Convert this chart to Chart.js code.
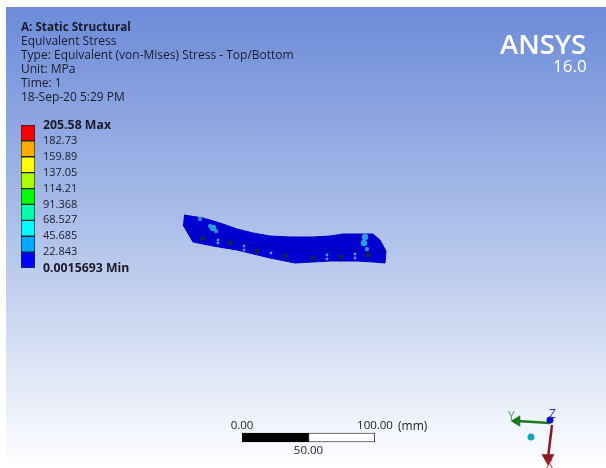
<!DOCTYPE html>
<html>
<head>
<meta charset="utf-8">
<script src="https://cdn.jsdelivr.net/npm/chart.js@4"></script>
<style>
html, body { margin: 0; padding: 0; background: #fff; }
#page { position: relative; width: 606px; height: 468px; overflow: hidden; font-family: "Open Sans", sans-serif; color: #1a1a2a; }
#panel { position: absolute; left: 6px; top: 7px; width: 600px; height: 461px; background: linear-gradient(#6c8bd9, #a9bde8 45%, #ffffff 100%); }
canvas { position: absolute; }
.t { position: absolute; white-space: nowrap; font-size: 12px; line-height: 13px; }
</style>
</head>
<body>
<div id="page">
  <div id="panel"></div>
  <canvas id="mainChart" width="606" height="468" style="left:0;top:0"></canvas>
  <canvas id="legendChart" width="150" height="170" style="left:10px;top:112px"></canvas>
  <canvas id="scaleChart" width="240" height="52" style="left:200px;top:410px"></canvas>

  <div class="t" style="left:21px;top:20px;font-weight:bold;font-size:11.7px">A: Static Structural</div>
  <div class="t" style="left:21px;top:34px">Equivalent Stress</div>
  <div class="t" style="left:21px;top:48px">Type: Equivalent (von-Mises) Stress - Top/Bottom</div>
  <div class="t" style="left:21px;top:62px">Unit: MPa</div>
  <div class="t" style="left:21px;top:76px">Time: 1</div>
  <div class="t" style="left:21px;top:90px">18-Sep-20 5:29 PM</div>

  <div class="t" style="left:500px;top:28px;font-size:27.5px;line-height:32px;font-weight:600;color:#fff">ANSYS</div>
  <div class="t" style="left:553px;top:57px;font-size:17px;line-height:18px;color:#fff">16.0</div>

  <div class="t" style="left:398px;top:419px">(mm)</div>

  <div class="t" style="left:508px;top:409px;color:#5aa05a">Y</div>
  <div class="t" style="left:549px;top:407px;color:#2030c0">Z</div>
  <div class="t" style="left:546px;top:457px;color:#c03030">X</div>
</div>

<script>
// Stress levels of the contour legend (MPa)
const stressLevels = [0.0015693, 22.843, 45.685, 68.527, 91.368, 114.21, 137.05, 159.89, 182.73, 205.58];
const bandColors = ['#0000ff', '#00aaff', '#00ffff', '#00ffaa', '#00ff00', '#aaff00', '#ffff00', '#ffaa00', '#ff0000'];

// Scale bar (mm)
const scaleSegments = [[0, 50], [50, 100]];
const scaleColors = ['#000000', '#ffffff'];

// Beam outline
const beamOutline = [[184,215],[203,218],[220,223],[237,229],[253,233],[270,236],[290,237],[313,237],[330,236],[343,234],[373,234],[380,240],[386,251],[385,263],[373,262],[357,261],[330,261],[295,263],[280,260],[270,258],[237,250],[213,246],[193,242],[183,225]];
const beamEdge = [[184,226],[190,228],[220,236],[253,245],[290,251],[330,250],[386,251]];
const holes = [[203,238],[230,243],[257,251],[285,256],[313,258],[341,257],[368,255]];
const bigSpots = [[213,228],[365,237],[364,243]];
const midSpots = [[200,219],[210,226],[216,231],[367,249]];
const smallSpots = [[218,240],[218,243],[244,246],[244,250],[271,253],[327,255],[327,259],[355,254],[355,258]];

// Triad
const axisY = [[550,423],[517,421]];
const axisX = [[552,425],[548,458]];
const triadOrigin = [[550,420]];
const triadDot = [[531,437]];

const toPoints = (list) => list.map((p) => ({ x: p[0], y: p[1] }));

new Chart(document.getElementById('mainChart').getContext('2d'), {
    type: 'scatter',
    data: {
        // first dataset ends up on top
        datasets: [
            { data: toPoints(triadOrigin), backgroundColor: '#1010c0', pointRadius: 3.5, borderWidth: 0 },
            { data: toPoints(axisY), showLine: true, borderColor: '#1a7a1a', borderWidth: 2.5, pointRadius: [0, 4], pointStyle: 'triangle', pointRotation: -90, backgroundColor: '#1a7a1a' },
            { data: toPoints(axisX), showLine: true, borderColor: '#8a1a2a', borderWidth: 2.5, pointRadius: [0, 5], pointStyle: 'triangle', pointRotation: 180, backgroundColor: '#8a1a2a' },
            { data: toPoints(triadDot), backgroundColor: '#18a8b0', pointRadius: 3.5, borderWidth: 0 },
            { data: toPoints(bigSpots), backgroundColor: '#2a9fd0', pointRadius: 3.2, borderWidth: 0 },
            { data: toPoints(midSpots), backgroundColor: '#2a8ad8', pointRadius: 2.2, borderWidth: 0 },
            { data: toPoints(smallSpots), backgroundColor: '#3aa0e8', pointRadius: 1.4, borderWidth: 0 },
            { data: toPoints(holes), backgroundColor: '#10205a', pointRadius: 2.8, borderWidth: 0 },
            { data: toPoints(beamEdge), showLine: true, borderColor: '#0000a8', borderWidth: 1, pointRadius: 0 },
            { data: toPoints(beamOutline), showLine: true, fill: 'shape', backgroundColor: '#0000d2', borderColor: '#0000c0', borderWidth: 1, pointRadius: 0, tension: 0 }
        ]
    },
    options: {
        responsive: false,
        animation: false,
        layout: { padding: 0, autoPadding: false },
        plugins: { legend: { display: false }, tooltip: { enabled: false } },
        scales: {
            x: { display: false, min: 0, max: 606 },
            y: { display: false, min: 0, max: 468, reverse: true }
        }
    }
});

// Contour legend: floating bars, the value axis carries the level labels
new Chart(document.getElementById('legendChart').getContext('2d'), {
    type: 'bar',
    data: {
        labels: [''],
        datasets: bandColors.map((color, i) => ({
            data: [[stressLevels[i], stressLevels[i + 1]]],
            backgroundColor: color,
            borderColor: '#1c2430',
            borderWidth: 1,
            borderSkipped: false,
            barPercentage: 1,
            categoryPercentage: 1,
            grouped: false
        }))
    },
    options: {
        responsive: false,
        animation: false,
        layout: { padding: { left: 11, top: 13, bottom: 14, right: 0 } },
        plugins: { legend: { display: false }, tooltip: { enabled: false } },
        scales: {
            x: { display: false },
            y: {
                position: 'right',
                min: stressLevels[0],
                max: stressLevels[stressLevels.length - 1],
                grid: { display: false },
                border: { display: false },
                afterBuildTicks: (axis) => { axis.ticks = stressLevels.map((v) => ({ value: v })); },
                afterFit: (axis) => { axis.width = 125; },
                ticks: {
                    autoSkip: false,
                    padding: 0,
                    color: '#1a1a2a',
                    crossAlign: 'near',
                    font: (ctx) => {
                        const ends = ctx.index === 0 || ctx.index === stressLevels.length - 1;
                        return { family: 'Open Sans', size: ends ? 12.3 : 11, weight: ends ? 'bold' : 'normal' };
                    },
                    callback: (value, i) => {
                        if (i === stressLevels.length - 1) return value + ' Max';
                        if (i === 0) return value + ' Min';
                        return String(value);
                    }
                }
            }
        }
    }
});

// Scale bar: 0 and 100 on top, 50 below
new Chart(document.getElementById('scaleChart').getContext('2d'), {
    type: 'bar',
    data: {
        labels: [''],
        datasets: scaleSegments.map((v, i) => ({
            data: [v],
            xAxisID: 'x',
            backgroundColor: scaleColors[i],
            borderColor: '#000',
            borderWidth: 1,
            borderSkipped: false,
            barPercentage: 1,
            categoryPercentage: 1,
            grouped: false
        }))
    },
    options: {
        indexAxis: 'y',
        responsive: false,
        animation: false,
        layout: { padding: { left: 42, right: 65, top: 9, bottom: 2 } },
        plugins: { legend: { display: false }, tooltip: { enabled: false } },
        scales: {
            x: {
                position: 'top', min: 0, max: 100,
                grid: { display: false, drawTicks: false }, border: { display: false },
                afterBuildTicks: (axis) => { axis.ticks = [{ value: 0 }, { value: 100 }]; },
                ticks: { color: '#1a1a2a', padding: 0, maxRotation: 0, font: { family: 'Open Sans', size: 11.5 }, callback: (v) => v.toFixed(2) }
            },
            x2: {
                axis: 'x', position: 'bottom', min: 0, max: 100,
                grid: { display: false, drawTicks: false }, border: { display: false },
                afterBuildTicks: (axis) => { axis.ticks = [{ value: 50 }]; },
                ticks: { color: '#1a1a2a', padding: 2, maxRotation: 0, font: { family: 'Open Sans', size: 11.5 }, callback: (v) => v.toFixed(2) }
            },
            y: { display: false }
        }
    }
});
</script>
</body>
</html>
